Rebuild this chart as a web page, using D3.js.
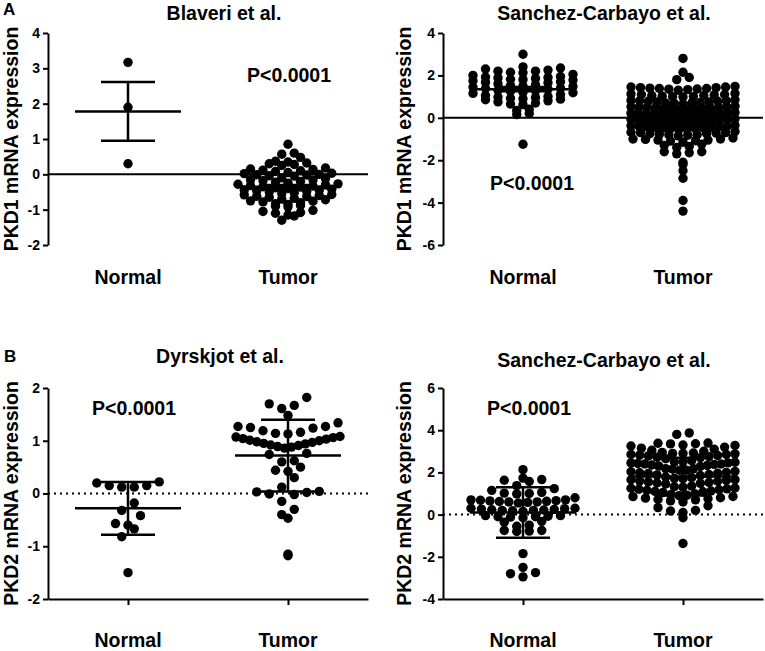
<!DOCTYPE html>
<html>
<head>
<meta charset="utf-8">
<script src="https://cdn.jsdelivr.net/npm/d3@7"></script>
<style>
  body { margin: 0; background: #fff; }
  text { font-family: "Liberation Sans", Arial, sans-serif; font-weight: bold; fill: #000; }
</style>
</head>
<body>
<svg width="765" height="651"></svg>
<script>
// categories and labels
var categories = ["Normal", "Tumor"];
var pText = "P<0.0001";

// A - Blaveri et al. (PKD1)
var blaveriNormal = [3.17, 1.9, 0.3];
var blaveriTumor = [0.85, 0.6, 0.57, 0.48, 0.37, 0.35, 0.32, 0.3, 0.28, 0.25, 0.18, 0.15, 0.14, 0.12, 0.1,
  0.08, 0.05, 0.03, 0.02, 0, -0.01, -0.02, -0.04, -0.05, -0.1, -0.12, -0.15, -0.16, -0.18, -0.2, -0.22,
  -0.25, -0.27, -0.28, -0.3, -0.32, -0.33, -0.35, -0.36, -0.38, -0.4, -0.42, -0.44, -0.45, -0.47, -0.48,
  -0.5, -0.52, -0.55, -0.57, -0.58, -0.6, -0.62, -0.63, -0.65, -0.68, -0.7, -0.72, -0.75, -0.76, -0.78,
  -0.8, -0.83, -0.85, -0.88, -0.9, -0.92, -1.02, -1.05, -1.08, -1.1, -1.15, -1.18, -1.3];
var blaveriMean = [1.78, -0.35];
var blaveriErr = [0.83, 0.05];

// A - Sanchez-Carbayo et al. (PKD1)
var sanchez1Normal = [3.0, 2.4, 2.35, 2.3, 2.25, 2.2, 2.2, 2.15, 2.12, 2.05, 2.0, 1.95, 1.92, 1.9, 1.88,
  1.85, 1.82, 1.8, 1.78, 1.75, 1.7, 1.68, 1.65, 1.6, 1.55, 1.52, 1.5, 1.48, 1.45, 1.4, 1.38, 1.35, 1.3,
  1.28, 1.25, 1.2, 1.18, 1.15, 1.1, 1.05, 1.0, 0.98, 0.95, 0.92, 0.9, 0.88, 0.85, 0.8, 0.75, 0.7, 0.65,
  0.62, 0.4, 0.35, 0.2, 0.15, -1.25];
var sanchez1Tumor = [2.8, 2.15, 1.9, 1.8,
  1.48, 1.45, 1.45, 1.42, 1.42, 1.4, 1.38, 1.38, 1.36, 1.35, 1.33, 1.3,
  1.15, 1.12, 1.1, 1.1, 1.08, 1.05, 1.05, 1.02, 1.0, 1.0, 0.98,
  0.85, 0.82, 0.8, 0.8, 0.78, 0.78, 0.75, 0.75, 0.72, 0.7, 0.7, 0.68, 0.65,
  0.55, 0.52, 0.5, 0.5, 0.48, 0.48, 0.45, 0.45, 0.43, 0.42, 0.4, 0.4, 0.38, 0.35,
  0.25, 0.22, 0.22, 0.2, 0.2, 0.18, 0.18, 0.15, 0.15, 0.13, 0.12, 0.1, 0.1, 0.08, 0.05,
  -0.05, -0.08, -0.08, -0.1, -0.1, -0.12, -0.12, -0.15, -0.15, -0.17, -0.18, -0.2, -0.2, -0.22, -0.25,
  -0.35, -0.38, -0.4, -0.4, -0.42, -0.43, -0.45, -0.45, -0.47, -0.48, -0.5, -0.5, -0.52, -0.55,
  -0.65, -0.68, -0.7, -0.7, -0.72, -0.75, -0.75, -0.78, -0.8, -0.8, -0.82, -0.85,
  -0.95, -1.0, -1.0, -1.02, -1.05, -1.05, -1.08, -1.1, -1.15,
  -1.25, -1.3, -1.35, -1.4,
  -1.6, -1.6, -1.65, -1.7, -2.1, -2.2, -2.5, -2.85, -3.9, -4.4];
var sanchez1Mean = [1.35, -0.05];
var sanchez1Err = [0.1, 0.1];

// B - Dyrskjot et al. (PKD2)
var dyrskjotNormal = [0.22, 0.2, 0.15, 0.15, 0.12, 0.12, -0.18, -0.32, -0.42, -0.57, -0.6, -0.67, -0.82, -1.5];
var dyrskjotTumor = [1.82, 1.7, 1.67, 1.61, 1.48, 1.34, 1.27, 1.27, 1.25, 1.24, 1.19, 1.16, 1.14, 1.13,
  1.08, 1.07, 1.06, 1.04, 1.03, 1.01, 1.0, 0.98, 0.97, 0.95, 0.94, 0.92, 0.91, 0.89, 0.88, 0.86,
  0.76, 0.74, 0.62, 0.6, 0.5, 0.44, 0.42, 0.3, 0.12, 0.04, 0.03, 0.02, -0.01, -0.02, -0.15,
  -0.3, -0.4, -0.47, -1.15, -1.18];
var dyrskjotMean = [-0.28, 0.72];
var dyrskjotErr = [0.5, 0.68];

// B - Sanchez-Carbayo et al. (PKD2)
var sanchez2Normal = [2.13, 1.73, 1.66, 1.63, 1.57, 1.37, 1.23, 1.15, 1.05, 1.02, 1.0, 0.98,
  0.8, 0.7, 0.7, 0.68, 0.66, 0.65, 0.63, 0.62, 0.6, 0.6, 0.58, 0.55,
  0.3, 0.3, 0.28, 0.26, 0.25, 0.23, 0.22, 0.2, 0.2, 0.18, 0.15,
  -0.05, -0.05, -0.08, -0.1, -0.1, -0.12, -0.15, -0.32, -0.36, -0.5, -0.55,
  -0.75, -0.75, -0.78, -0.8, -1.85, -2.5, -2.75, -2.8, -2.95];
var sanchez2Tumor = [3.87, 3.8,
  3.39, 3.38, 3.36, 3.35, 3.3, 3.28, 3.25, 3.2, 3.15, 3.1, 3.05, 3.0,
  2.95, 2.92, 2.9, 2.9, 2.88, 2.85, 2.85, 2.82, 2.8, 2.78, 2.75, 2.72, 2.7, 2.65,
  2.55, 2.5, 2.5, 2.48, 2.45, 2.45, 2.42, 2.4, 2.4, 2.38, 2.35, 2.33, 2.3, 2.28,
  2.18, 2.17, 2.15, 2.1, 2.1, 2.05, 2.03, 2.0, 1.98, 1.96, 1.95, 1.9, 1.88, 1.85,
  1.78, 1.75, 1.72, 1.7, 1.66, 1.65, 1.62, 1.6, 1.58, 1.55, 1.52, 1.5, 1.48, 1.45,
  1.35, 1.32, 1.3, 1.26, 1.25, 1.22, 1.2, 1.18, 1.15, 1.12, 1.1, 1.08, 1.05,
  0.98, 0.95, 0.92, 0.9, 0.86, 0.85, 0.8, 0.78, 0.75, 0.72, 0.7, 0.65, 0.6,
  0.42, 0.33, 0.2, 0.17, 0.1, -0.15, -1.37];
var sanchez2Mean = [0.1, 1.8];
var sanchez2Err = [1.2, 0.9];

var svg = d3.select("svg");

// GraphPad-like scatter: points in the same value bin are spread sideways
function swarm(values, y, cx, step, offset) {
  var bins = d3.group(values, function(v) { return Math.floor((v - offset) / step + 1e-9); });
  var pts = [];
  bins.forEach(function(vals) {
    vals = vals.slice().sort(d3.ascending);
    var n = vals.length;
    var gap = n > 1 ? Math.min(12.5, 104 / (n - 1)) : 0;
    var slots = d3.range(n).map(function(i) { return (i - (n - 1) / 2) * gap; });
    slots.sort(function(a, b) { return Math.abs(a) - Math.abs(b) || a - b; });
    vals.forEach(function(v, i) { pts.push({ x: cx + slots[i], y: y(v) }); });
  });
  return pts;
}

function drawPanel(o) {
  var g = svg.append("g");

  var x = d3.scalePoint().domain(categories).range([o.x0, o.x1]).padding(0.5);
  var y = d3.scaleLinear().domain(o.domain).range([o.yBottom, o.yTop]);

  // y axis
  var yAxis = g.append("g")
      .attr("transform", "translate(" + o.x0 + ",0)")
      .call(d3.axisLeft(y)
        .tickValues(d3.range(o.domain[0], o.domain[1] + 0.001, o.tickStep))
        .tickFormat(function(d) { return String(Math.round(d)); })
        .tickSize(5).tickSizeOuter(0).tickPadding(3));
  yAxis.selectAll("path, line").attr("stroke", "#000").attr("stroke-width", 2);
  yAxis.selectAll("text").style("font-size", "14px").style("font-family", "Liberation Sans, Arial, sans-serif")
      .style("font-weight", "bold");

  if (o.bottomAxis) {
    var xAxis = g.append("g")
        .attr("transform", "translate(0," + o.yBottom + ")")
        .call(d3.axisBottom(x).tickSize(6).tickSizeOuter(0).tickFormat(""));
    xAxis.selectAll("path, line").attr("stroke", "#000").attr("stroke-width", 2);
    // dotted zero line
    g.append("line")
        .attr("x1", o.x0).attr("x2", o.x1)
        .attr("y1", y(0)).attr("y2", y(0))
        .attr("stroke", "#000").attr("stroke-width", 2)
        .attr("stroke-dasharray", "2,4");
  } else {
    g.append("line")
        .attr("x1", o.x0).attr("x2", o.x1)
        .attr("y1", y(0)).attr("y2", y(0))
        .attr("stroke", "#000").attr("stroke-width", 2);
  }

  // points
  o.groups.forEach(function(vals, i) {
    var pts = swarm(vals, y, x(categories[i]), o.binStep, o.binOffset);
    g.selectAll(null)
        .data(pts)
      .enter().append("circle")
        .attr("cx", function(d) { return d.x; })
        .attr("cy", function(d) { return d.y; })
        .attr("r", 4.7)
        .attr("fill", "#000");
  });

  // mean and error bars
  categories.forEach(function(c, i) {
    var cx = x(c), m = o.mean[i], e = o.err[i];
    var bars = [
      [cx - 53, cx + 53, y(m), y(m)],
      [cx, cx, y(m - e), y(m + e)],
      [cx - 27, cx + 27, y(m + e), y(m + e)],
      [cx - 27, cx + 27, y(m - e), y(m - e)]
    ];
    g.selectAll(null)
        .data(bars)
      .enter().append("line")
        .attr("x1", function(d) { return d[0]; })
        .attr("x2", function(d) { return d[1]; })
        .attr("y1", function(d) { return d[2]; })
        .attr("y2", function(d) { return d[3]; })
        .attr("stroke", "#000").attr("stroke-width", 2.5);
  });

  // category labels
  categories.forEach(function(c) {
    g.append("text").attr("x", x(c)).attr("y", o.catY)
        .attr("text-anchor", "middle").style("font-size", "19.5px").text(c);
  });

  // title
  g.append("text").attr("x", o.titleX).attr("y", o.titleY)
      .attr("text-anchor", "middle").style("font-size", "19.5px").text(o.title);

  // y label
  g.append("text")
      .attr("transform", "translate(" + o.labelX + "," + ((o.yTop + o.yBottom) / 2) + ") rotate(-90)")
      .attr("text-anchor", "middle").style("font-size", "19.5px").text(o.ylabel);

  // p value
  g.append("text").attr("x", o.pX).attr("y", o.pY)
      .style("font-size", "19.5px").text(pText);
}

drawPanel({
  x0: 48, x1: 368, yTop: 33, yBottom: 245, domain: [-2, 4], tickStep: 1,
  groups: [blaveriNormal, blaveriTumor], mean: blaveriMean, err: blaveriErr,
  binStep: 0.15, binOffset: 0.04, bottomAxis: false,
  title: "Blaveri et al.", titleX: 224, titleY: 20,
  ylabel: "PKD1 mRNA expression", labelX: 18, catY: 284, pX: 247, pY: 82
});
drawPanel({
  x0: 443, x1: 763, yTop: 33, yBottom: 245, domain: [-6, 4], tickStep: 2,
  groups: [sanchez1Normal, sanchez1Tumor], mean: sanchez1Mean, err: sanchez1Err,
  binStep: 0.3, binOffset: 0, bottomAxis: false,
  title: "Sanchez-Carbayo et al.", titleX: 604, titleY: 20,
  ylabel: "PKD1 mRNA expression", labelX: 411, catY: 284, pX: 490, pY: 190
});
drawPanel({
  x0: 48, x1: 368, yTop: 388, yBottom: 599, domain: [-2, 2], tickStep: 1,
  groups: [dyrskjotNormal, dyrskjotTumor], mean: dyrskjotMean, err: dyrskjotErr,
  binStep: 0.25, binOffset: 0.1, bottomAxis: true,
  title: "Dyrskjot et al.", titleX: 220, titleY: 363,
  ylabel: "PKD2 mRNA expression", labelX: 18, catY: 647, pX: 92, pY: 415
});
drawPanel({
  x0: 443, x1: 763, yTop: 388, yBottom: 599, domain: [-4, 6], tickStep: 2,
  groups: [sanchez2Normal, sanchez2Tumor], mean: sanchez2Mean, err: sanchez2Err,
  binStep: 0.4, binOffset: 0.1, bottomAxis: true,
  title: "Sanchez-Carbayo et al.", titleX: 604, titleY: 367,
  ylabel: "PKD2 mRNA expression", labelX: 411, catY: 647, pX: 487, pY: 415
});

// panel letters
svg.append("text").attr("x", 3).attr("y", 15).style("font-size", "17px").text("A");
svg.append("text").attr("x", 4).attr("y", 362).style("font-size", "17px").text("B");
</script>
</body>
</html>
